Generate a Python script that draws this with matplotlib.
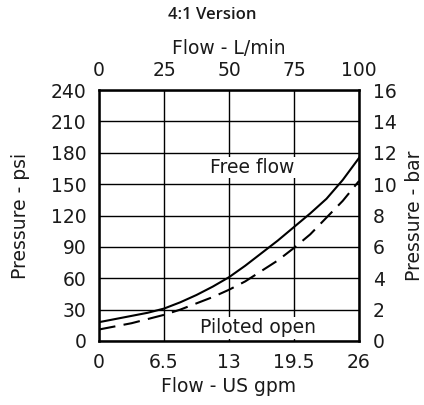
import matplotlib.pyplot as plt

# flow in L/min, pressure in psi
flow_lpm = [0, 6.25, 12.5, 18.75, 25, 31.25, 37.5, 43.75, 50,
            56.25, 62.5, 68.75, 75, 81.25, 87.5, 93.75, 100]
free_flow_psi = [18, 21, 24, 27, 31, 37, 44, 52, 61,
                 72, 84, 96, 109, 122, 136, 154, 175]
piloted_psi = [11, 14, 17, 21, 25, 30, 36, 42, 49,
               57, 67, 77, 89, 102, 118, 134, 153]

top_ticks = [0, 25, 50, 75, 100]
bottom_labels = ['0', '6.5', '13', '19.5', '26']
psi_ticks = [0, 30, 60, 90, 120, 150, 180, 210, 240]
bar_labels = ['0', '2', '4', '6', '8', '10', '12', '14', '16']

plt.rcParams['font.family'] = 'DejaVu Sans'
fs = 13.5
tc = '#1a1a1a'

fig = plt.figure(figsize=(4.24, 4.05), dpi=100)
ax = fig.add_axes([99/424, 1 - 341/405, 260/424, 251/405])

ax.plot(flow_lpm, free_flow_psi, color='black', lw=1.5, zorder=3)
ax.plot(flow_lpm, piloted_psi, color='black', lw=1.5, dashes=(8, 4), zorder=3)

ax.set_xlim(0, 100)
ax.set_ylim(0, 240)
ax.set_xticks(top_ticks)
ax.set_xticklabels(bottom_labels, fontsize=fs, color=tc)
ax.set_yticks(psi_ticks)
ax.set_yticklabels([str(v) for v in psi_ticks], fontsize=fs, color=tc)
ax.tick_params(length=0, pad=9)
ax.grid(True, color='black', lw=1.0)
for s in ax.spines.values():
    s.set_linewidth(1.8)

ax.set_xlabel('Flow - US gpm', fontsize=fs, color=tc, labelpad=3)
ax.set_ylabel('Pressure - psi', fontsize=fs, color=tc, labelpad=15)

top = ax.secondary_xaxis('top')
top.set_xticks(top_ticks)
top.set_xticklabels([str(v) for v in top_ticks], fontsize=fs, color=tc)
top.tick_params(length=0, pad=7)
top.set_xlabel('Flow - L/min', fontsize=fs, color=tc, labelpad=5)

right = ax.secondary_yaxis('right')
right.set_yticks(psi_ticks)
right.set_yticklabels(bar_labels, fontsize=fs, color=tc)
right.tick_params(length=0, pad=10)
right.set_ylabel('Pressure - bar', fontsize=fs, color=tc, labelpad=6)

box = dict(facecolor='white', edgecolor='none', pad=1)
ax.text(59, 166, 'Free flow', fontsize=fs, ha='center', va='center',
        color=tc, bbox=box, zorder=4)
ax.text(61, 12.5, 'Piloted open', fontsize=fs, ha='center', va='center',
        color=tc, bbox=box, zorder=4)

fig.text(0.5, 1 - 15/405, '4:1 Version', fontsize=12, ha='center', va='center',
         color=tc, fontweight='semibold', family='Open Sans')

fig.savefig('out.png', dpi=100)
